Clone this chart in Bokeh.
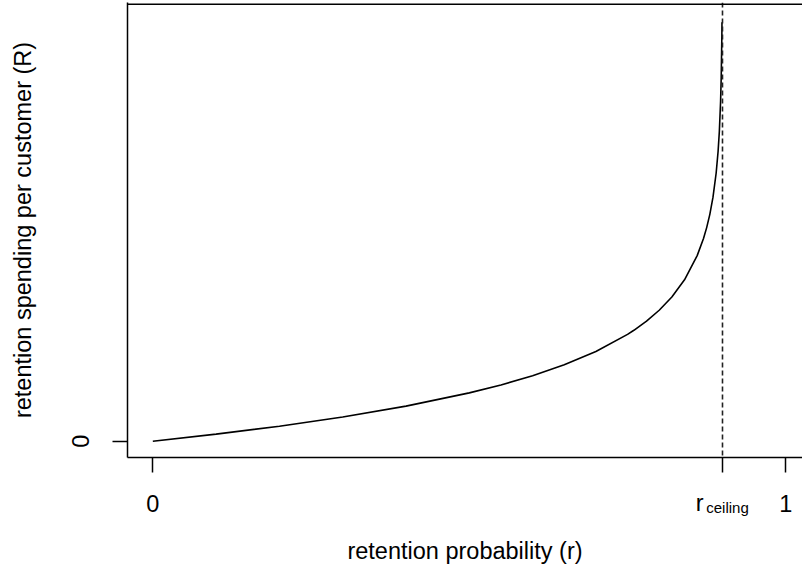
from bokeh.plotting import figure
from bokeh.models import Range1d, FixedTicker, Span, LinearAxis
from bokeh.embed import file_html
from bokeh.resources import INLINE

# values (retention probability r -> spending R, arbitrary units)
r_values = [0.0, 0.1, 0.2, 0.3, 0.4, 0.5, 0.55, 0.6, 0.65, 0.7, 0.75, 0.76, 0.78,
            0.8, 0.82, 0.84, 0.86, 0.87, 0.875, 0.88, 0.885, 0.89, 0.893, 0.895,
            0.897, 0.898, 0.899, 0.8992]
R_values = [0.0, 0.118, 0.251, 0.405, 0.588, 0.811, 0.944, 1.099, 1.281, 1.504,
            1.792, 1.861, 2.015, 2.197, 2.420, 2.708, 3.114, 3.401, 3.584, 3.807,
            4.094, 4.500, 4.856, 5.193, 5.704, 6.109, 6.80, 7.03]
r_ceiling = 0.9
x_ticks = [0, 0.9, 1]
x_tick_labels = {0: "0", 0.9: "", 1: "1"}
y_ticks = [0]
y_tick_labels = {0: "0"}
# pieces of the "r_ceiling" tick label (main letter, subscript)
r_label_pos = [0.864]
r_label_text = {0.864: "r"}
sub_label_pos = [0.908]
sub_label_text = {0.908: "ceiling"}

FONT = "Liberation Sans"
FS = "23.5px"

p = figure(width=802, height=574, output_backend="svg", toolbar_location=None,
           x_range=Range1d(-0.04, 1.0264), y_range=Range1d(-0.2735, 7.361),
           min_border_left=127, min_border_right=0, min_border_top=2,
           min_border_bottom=117)
p.outline_line_color = None
p.grid.visible = False
p.background_fill_color = "white"
p.border_fill_color = "white"

p.line(r_values, R_values, line_color="black", line_width=1.6)

p.add_layout(Span(location=r_ceiling, dimension="height", line_color="#222222",
                  line_width=1.6, line_dash="5 3"))
# top frame edge
p.add_layout(Span(location=7.333, dimension="width", line_color="black", line_width=1.5))

xa = p.xaxis[0]
xa.ticker = FixedTicker(ticks=x_ticks)
xa.major_label_overrides = x_tick_labels
ya = p.yaxis[0]
ya.ticker = FixedTicker(ticks=y_ticks)
ya.major_label_overrides = y_tick_labels
ya.axis_label = "retention spending per customer (R)"
ya.major_label_orientation = "vertical"


def style(ax):
    ax.minor_tick_line_color = None
    ax.major_tick_in = 0
    ax.major_label_text_font = FONT
    ax.major_label_text_font_size = FS
    ax.major_label_text_color = "black"
    ax.axis_label_text_font = FONT
    ax.axis_label_text_font_size = FS
    ax.axis_label_text_font_style = "normal"
    ax.axis_label_text_color = "black"


for ax in (xa, ya):
    style(ax)
    ax.axis_line_color = "black"
    ax.axis_line_width = 1.5
    ax.major_tick_line_color = "black"
    ax.major_tick_line_width = 1.5
    ax.major_tick_out = 15

xa.major_label_standoff = 22
ya.major_label_standoff = 23
ya.axis_label_standoff = 34


def label_axis(ticks, texts, size, standoff, title=None):
    ax = LinearAxis(ticker=FixedTicker(ticks=ticks), major_label_overrides=texts)
    style(ax)
    ax.axis_line_color = None
    ax.major_tick_line_color = None
    ax.major_tick_out = 0
    ax.major_label_standoff = standoff
    ax.major_label_text_font_size = size
    if title:
        ax.axis_label = title
        ax.axis_label_standoff = 19
    p.add_layout(ax, "below")


label_axis(r_label_pos, r_label_text, FS, -25)
label_axis(sub_label_pos, sub_label_text, "15px", -20, "retention probability (r)")

open("out.html", "w").write(file_html(p, INLINE))
